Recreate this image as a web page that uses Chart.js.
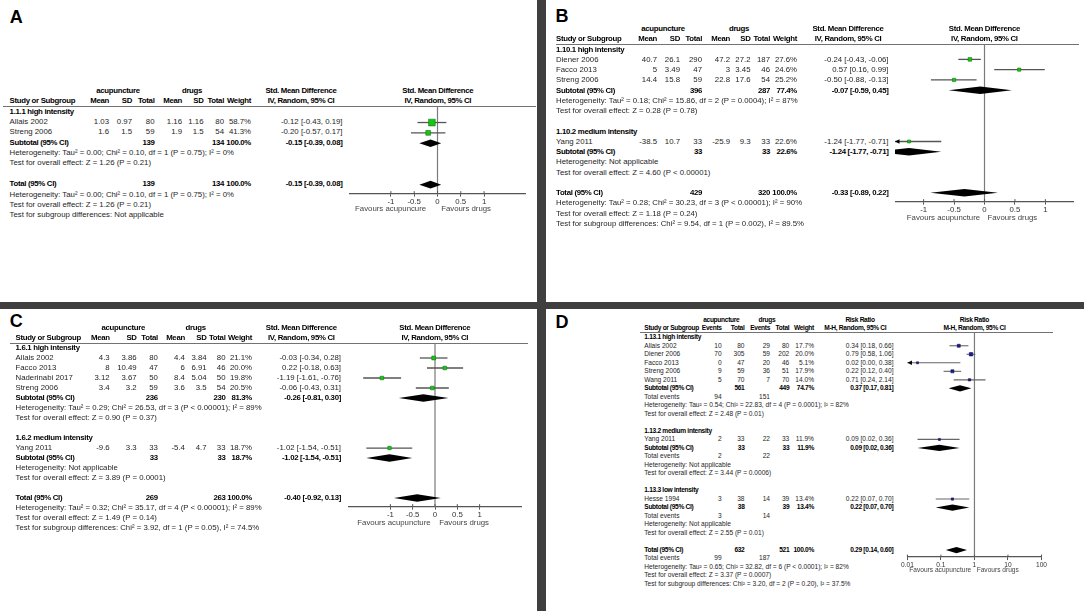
<!DOCTYPE html>
<html lang="en">
<head>
<meta charset="UTF-8">
<title>Acupuncture vs drugs - forest plots</title>
<style>
  html, body { margin: 0; padding: 0; background: #fff; }
  body { width: 1084px; height: 611px; position: relative; overflow: hidden;
         font-family: "Liberation Sans", Arial, sans-serif; color: #1e1e1e; }
  .t { position: absolute; white-space: nowrap; line-height: 1; }
  .b { font-weight: bold; color: #000; letter-spacing: -0.3px; }
  .fav { color: #444; }
  .letter { font-size: 18px; font-weight: bold; color: #000; letter-spacing: 0; }
  .bar { position: absolute; background: #3f3f3f; }
  .rule { position: absolute; height: 1.4px; background: #727272; }
  canvas { position: absolute; }
</style>
</head>
<body>
<div class="bar" style="left:537px;top:0;width:9px;height:611px"></div>
<div class="bar" style="left:0;top:302px;width:1084px;height:7px"></div>

<script src="https://cdn.jsdelivr.net/npm/chart.js"></script>
<script>
const FONT = '"Liberation Sans", Arial, sans-serif';

// ---------- A: std. mean difference ----------
const aStudy = ['Allais 2002', 'Streng 2006'];
const aAcuMean = [1.03, 1.6], aAcuSD = [0.97, 1.5], aAcuN = [80, 59];
const aDrgMean = [1.16, 1.9], aDrgSD = [1.16, 1.5], aDrgN = [80, 54];
const aWeight = [58.7, 41.3];
const aEst = [-0.12, -0.20], aLo = [-0.43, -0.57], aHi = [0.19, 0.17];
const aPool = ['Subtotal (95% CI)', 'Total (95% CI)'];
const aPoolN1 = [139, 139], aPoolN2 = [134, 134], aPoolW = [100, 100];
const aPoolEst = [-0.15, -0.15], aPoolLo = [-0.39, -0.39], aPoolHi = [0.08, 0.08];
const aLines = [
  'g:1.1.1 high intensity', 's', 's', 'p',
  'n:Heterogeneity: Tau² = 0.00; Chi² = 0.10, df = 1 (P = 0.75); I² = 0%',
  'n:Test for overall effect: Z = 1.26 (P = 0.21)', '',
  'p',
  'n:Heterogeneity: Tau² = 0.00; Chi² = 0.10, df = 1 (P = 0.75); I² = 0%',
  'n:Test for overall effect: Z = 1.26 (P = 0.21)',
  'n:Test for subgroup differences: Not applicable'
];

// ---------- B ----------
const bStudy = ['Diener 2006', 'Facco 2013', 'Streng 2006', 'Yang 2011'];
const bAcuMean = [40.7, 5, 14.4, -38.5], bAcuSD = [26.1, 3.49, 15.8, 10.7], bAcuN = [290, 47, 59, 33];
const bDrgMean = [47.2, 3, 22.8, -25.9], bDrgSD = [27.2, 3.45, 17.6, 9.3], bDrgN = [187, 46, 54, 33];
const bWeight = [27.6, 24.6, 25.2, 22.6];
const bEst = [-0.24, 0.57, -0.50, -1.24], bLo = [-0.43, 0.16, -0.88, -1.77], bHi = [-0.06, 0.99, -0.13, -0.71];
const bPool = ['Subtotal (95% CI)', 'Subtotal (95% CI)', 'Total (95% CI)'];
const bPoolN1 = [396, 33, 429], bPoolN2 = [287, 33, 320], bPoolW = [77.4, 22.6, 100];
const bPoolEst = [-0.07, -1.24, -0.33], bPoolLo = [-0.59, -1.77, -0.89], bPoolHi = [0.45, -0.71, 0.22];
const bLines = [
  'g:1.10.1 high intensity', 's', 's', 's', 'p',
  'n:Heterogeneity: Tau² = 0.18; Chi² = 15.86, df = 2 (P = 0.0004); I² = 87%',
  'n:Test for overall effect: Z = 0.28 (P = 0.78)', '',
  'g:1.10.2 medium intensity', 's', 'p',
  'n:Heterogeneity: Not applicable',
  'n:Test for overall effect: Z = 4.60 (P < 0.00001)', '',
  'p',
  'n:Heterogeneity: Tau² = 0.28; Chi² = 30.23, df = 3 (P < 0.00001); I² = 90%',
  'n:Test for overall effect: Z = 1.18 (P = 0.24)',
  'n:Test for subgroup differences: Chi² = 9.54, df = 1 (P = 0.002), I² = 89.5%'
];

// ---------- C ----------
const cStudy = ['Allais 2002', 'Facco 2013', 'Naderinabi 2017', 'Streng 2006', 'Yang 2011'];
const cAcuMean = [4.3, 8, 3.12, 3.4, -9.6], cAcuSD = [3.86, 10.49, 3.67, 3.2, 3.3], cAcuN = [80, 47, 50, 59, 33];
const cDrgMean = [4.4, 6, 8.4, 3.6, -5.4], cDrgSD = [3.84, 6.91, 5.04, 3.5, 4.7], cDrgN = [80, 46, 50, 54, 33];
const cWeight = [21.1, 20.0, 19.8, 20.5, 18.7];
const cEst = [-0.03, 0.22, -1.19, -0.06, -1.02], cLo = [-0.34, -0.18, -1.61, -0.43, -1.54], cHi = [0.28, 0.63, -0.76, 0.31, -0.51];
const cPool = ['Subtotal (95% CI)', 'Subtotal (95% CI)', 'Total (95% CI)'];
const cPoolN1 = [236, 33, 269], cPoolN2 = [230, 33, 263], cPoolW = [81.3, 18.7, 100];
const cPoolEst = [-0.26, -1.02, -0.40], cPoolLo = [-0.81, -1.54, -0.92], cPoolHi = [0.30, -0.51, 0.13];
const cLines = [
  'g:1.6.1 high intensity', 's', 's', 's', 's', 'p',
  'n:Heterogeneity: Tau² = 0.29; Chi² = 26.53, df = 3 (P < 0.00001); I² = 89%',
  'n:Test for overall effect: Z = 0.90 (P = 0.37)', '',
  'g:1.6.2 medium intensity', 's', 'p',
  'n:Heterogeneity: Not applicable',
  'n:Test for overall effect: Z = 3.89 (P = 0.0001)', '',
  'p',
  'n:Heterogeneity: Tau² = 0.32; Chi² = 35.17, df = 4 (P < 0.00001); I² = 89%',
  'n:Test for overall effect: Z = 1.49 (P = 0.14)',
  'n:Test for subgroup differences: Chi² = 3.92, df = 1 (P = 0.05), I² = 74.5%'
];

// ---------- D: risk ratio ----------
const dStudy = ['Allais 2002', 'Diener 2006', 'Facco 2013', 'Streng 2006', 'Wang 2011', 'Yang 2011', 'Hesse 1994'];
const dAcuEv = [10, 70, 0, 9, 5, 2, 3], dAcuN = [80, 305, 47, 59, 70, 33, 38];
const dDrgEv = [29, 59, 20, 36, 7, 22, 14], dDrgN = [80, 202, 46, 51, 70, 33, 39];
const dWeight = [17.7, 20.0, 5.1, 17.9, 14.0, 11.9, 13.4];
const dEst = [0.34, 0.79, 0.02, 0.22, 0.71, 0.09, 0.22];
const dLo = [0.18, 0.58, 0.00, 0.12, 0.24, 0.02, 0.07];
const dHi = [0.66, 1.06, 0.38, 0.40, 2.14, 0.36, 0.70];
const dPool = ['Subtotal (95% CI)', 'Subtotal (95% CI)', 'Subtotal (95% CI)', 'Total (95% CI)'];
const dPoolN1 = [561, 33, 38, 632], dPoolN2 = [449, 33, 39, 521], dPoolW = [74.7, 11.9, 13.4, 100];
const dPoolEst = [0.37, 0.09, 0.22, 0.29], dPoolLo = [0.17, 0.02, 0.07, 0.14], dPoolHi = [0.81, 0.36, 0.70, 0.60];
const dEvAcu = [94, 2, 3, 99], dEvDrg = [151, 22, 14, 187];
const dLines = [
  'g:1.13.1 high intensity', 's', 's', 's', 's', 's', 'p', 'e',
  'n:Heterogeneity: Tau² = 0.54; Chi² = 22.83, df = 4 (P = 0.0001); I² = 82%',
  'n:Test for overall effect: Z = 2.48 (P = 0.01)', '',
  'g:1.13.2 medium intensity', 's', 'p', 'e',
  'n:Heterogeneity: Not applicable',
  'n:Test for overall effect: Z = 3.44 (P = 0.0006)', '',
  'g:1.13.3 low intensity', 's', 'p', 'e',
  'n:Heterogeneity: Not applicable',
  'n:Test for overall effect: Z = 2.55 (P = 0.01)', '',
  'p', 'e',
  'n:Heterogeneity: Tau² = 0.65; Chi² = 32.82, df = 6 (P < 0.0001); I² = 82%',
  'n:Test for overall effect: Z = 3.37 (P = 0.0007)',
  'n:Test for subgroup differences: Chi² = 3.20, df = 2 (P = 0.20), I² = 37.5%'
];

const smdTicks = [-1, -0.5, 0, 0.5, 1];
const rrTicks = [0.01, 0.1, 1, 10, 100];
const smdHead = ['Mean', 'SD', 'Total', 'Mean', 'SD', 'Total'];
const rrHead = ['Events', 'Total', 'Events', 'Total'];

function put(text, x, y, align, size, cls) {
  const s = document.createElement('span');
  s.className = 't' + (cls ? ' ' + cls : '');
  s.textContent = text;
  s.style.left = x + 'px';
  s.style.top = y + 'px';
  if (size) s.style.fontSize = size + 'px';
  s.style.transform = align === 'r' ? 'translate(-100%,-50%)' : align === 'c' ? 'translate(-50%,-50%)' : 'translate(0,-50%)';
  document.body.appendChild(s);
}

const f2 = v => v.toFixed(2);
const ciText = (e, l, h) => f2(e) + ' [' + f2(l) + ', ' + f2(h) + ']';

// draws null line, CI whiskers, arrows and diamonds with the chart's scales
function forestPlugin(p, studyRow, poolRow) {
  return {
    id: 'forest' + p.letter,
    beforeDatasetsDraw(chart) {
      const { ctx, chartArea: a, scales: { x, y } } = chart;
      ctx.save();
      const x0 = x.getPixelForValue(p.nullValue);
      ctx.strokeStyle = '#7a7a7a';
      ctx.lineWidth = 1.2;
      ctx.beginPath(); ctx.moveTo(x0, a.top); ctx.lineTo(x0, a.bottom); ctx.stroke();

      // tick marks also reach a little above the axis line
      ctx.strokeStyle = '#555';
      ctx.lineWidth = 1;
      p.xTicks.forEach(v => {
        const tx = x.getPixelForValue(v);
        ctx.beginPath(); ctx.moveTo(tx, a.bottom - 2.5); ctx.lineTo(tx, a.bottom); ctx.stroke();
      });

      ctx.strokeStyle = p.ciColor;
      ctx.lineWidth = p.ciWidth;
      studyRow.forEach((r, i) => {
        const lo = Math.max(p.lo[i], x.min), hi = Math.min(p.hi[i], x.max);
        const xl = x.getPixelForValue(lo), xr = x.getPixelForValue(hi), yy = y.getPixelForValue(r);
        ctx.beginPath(); ctx.moveTo(xl, yy); ctx.lineTo(xr, yy); ctx.stroke();
        ctx.fillStyle = '#000';
        if (p.lo[i] < x.min) {
          ctx.beginPath(); ctx.moveTo(xl, yy); ctx.lineTo(xl + 4.5, yy - 2.3); ctx.lineTo(xl + 4.5, yy + 2.3); ctx.fill();
        }
        if (p.hi[i] > x.max) {
          ctx.beginPath(); ctx.moveTo(xr, yy); ctx.lineTo(xr - 4.5, yy - 2.3); ctx.lineTo(xr - 4.5, yy + 2.3); ctx.fill();
        }
      });

      // pooled diamonds, cut at the ends of the axis
      ctx.beginPath(); ctx.rect(a.left, a.top, a.width, a.height); ctx.clip();
      const h = p.pitch * 0.37;
      ctx.fillStyle = '#000';
      poolRow.forEach((r, i) => {
        const xl = x.getPixelForValue(p.poolLo[i]);
        const xe = x.getPixelForValue(p.poolEst[i]);
        const xr = x.getPixelForValue(p.poolHi[i]);
        const yy = y.getPixelForValue(r);
        ctx.beginPath();
        ctx.moveTo(xl, yy); ctx.lineTo(xe, yy - h); ctx.lineTo(xr, yy); ctx.lineTo(xe, yy + h);
        ctx.closePath(); ctx.fill();
      });
      ctx.restore();
    }
  };
}

function chartConfig(p, studyRow, poolRow, yMax, withPlugin) {
  const wMax = Math.max(...p.weight);
  const sides = p.weight.map(w => Math.max(2, p.boxMax * w / wMax));
  return {
    type: 'scatter',
    data: {
      datasets: [{
        data: studyRow.map((r, i) => ({ x: p.est[i], y: r })),
        pointStyle: 'rect',
        pointRadius: sides.map(s => s / Math.SQRT2),
        backgroundColor: p.marker,
        borderColor: p.markerEdge,
        borderWidth: 0.6
      }]
    },
    options: {
      responsive: false,
      animation: false,
      events: [],
      layout: { padding: 0, autoPadding: false },
      plugins: { legend: { display: false }, tooltip: { enabled: false } },
      scales: {
        x: {
          type: p.logX ? 'logarithmic' : 'linear',
          min: p.xMin, max: p.xMax,
          afterBuildTicks: s => { s.ticks = p.xTicks.map(v => ({ value: v })); },
          ticks: { autoSkip: false, maxRotation: 0, padding: 1, color: '#333',
                   font: { family: FONT, size: p.font }, callback: v => String(v) },
          grid: { drawOnChartArea: false, drawTicks: true, tickLength: 3, color: '#555' },
          border: { display: true, color: '#555', width: 1.2 }
        },
        y: { type: 'linear', display: false, min: 1.5, max: yMax, reverse: true }
      }
    },
    plugins: withPlugin ? [forestPlugin(p, studyRow, poolRow)] : []
  };
}

function makeCanvas(left, top, w, h) {
  const cv = document.createElement('canvas');
  cv.width = w; cv.height = h;
  cv.style.left = left + 'px'; cv.style.top = top + 'px';
  cv.style.width = w + 'px'; cv.style.height = h + 'px';
  document.body.appendChild(cv);
  return cv;
}

function buildPanel(p) {
  const studyRow = [], poolRow = [], rows = [];
  let si = 0, pi = 0, ei = 0;
  p.lines.forEach((code, k) => {
    const r = k + 2;
    if (code === 's') { studyRow.push(r); rows.push({ r, kind: 's', i: si++ }); }
    else if (code === 'p') { poolRow.push(r); rows.push({ r, kind: 'p', i: pi++ }); }
    else if (code === 'e') rows.push({ r, kind: 'e', i: ei++ });
    else if (code) rows.push({ r, kind: code[0], text: code.slice(2) });
  });
  const yMax = poolRow[poolRow.length - 1] + p.axisGap;
  const W = Math.round(p.axisR - p.axisL);
  const top = p.top0 + 1.5 * p.pitch;

  // probe once to learn how tall the x axis is, then size the canvas to the row pitch
  const probeCv = makeCanvas(p.axisL, top, W, 200);
  const probe = new Chart(probeCv, chartConfig(p, studyRow, poolRow, yMax, false));
  const axisH = probe.height - probe.chartArea.bottom;
  probe.destroy();
  probeCv.remove();

  const cv = makeCanvas(p.axisL, top, W, Math.round((yMax - 1.5) * p.pitch + axisH));
  const chart = new Chart(cv, chartConfig(p, studyRow, poolRow, yMax, true));

  const ys = chart.scales.y, xs = chart.scales.x;
  const rowY = r => top + ys.getPixelForValue(r);
  const xNull = p.axisL + xs.getPixelForValue(p.nullValue);
  const fs = p.font;

  put(p.letter, p.letterX, p.letterY, 'c', null, 'letter');
  const rule = document.createElement('div');
  rule.className = 'rule';
  rule.style.left = p.ruleL + 'px'; rule.style.width = (p.ruleR - p.ruleL) + 'px';
  rule.style.top = (top - 0.7) + 'px';
  document.body.appendChild(rule);

  // column headers
  put('acupuncture', p.groupX[0], rowY(0), 'c', fs, 'b');
  put('drugs', p.groupX[1], rowY(0), 'c', fs, 'b');
  put(p.effHead[0], p.effX[0], rowY(0), 'c', fs, 'b');
  put(p.effHead[0], xNull, rowY(0), 'c', fs, 'b');
  put('Study or Subgroup', p.nameX, rowY(1), 'l', fs, 'b');
  p.colHead.forEach((t, j) => put(t, p.colX[j], rowY(1), 'r', fs, 'b'));
  put('Weight', p.weightX, rowY(1), 'r', fs, 'b');
  put(p.effHead[1], p.effX[1], rowY(1), 'c', fs, 'b');
  put(p.effHead[1], xNull, rowY(1), 'c', fs, 'b');

  rows.forEach(o => {
    const y = rowY(o.r);
    if (o.kind === 'g') put(o.text, p.nameX, y, 'l', fs, 'b');
    else if (o.kind === 'n') put(o.text, p.nameX, y, 'l', fs);
    else if (o.kind === 's') {
      const i = o.i;
      put(p.names[i], p.nameX, y, 'l', fs);
      p.cols.forEach((arr, j) => put(String(arr[i]), p.colX[j], y, 'r', fs));
      put(p.weight[i].toFixed(1) + '%', p.weightX, y, 'r', fs);
      put(ciText(p.est[i], p.lo[i], p.hi[i]), p.ciX, y, 'r', fs);
    } else if (o.kind === 'p') {
      const i = o.i;
      put(p.poolNames[i], p.nameX, y, 'l', fs, 'b');
      put(String(p.poolN1[i]), p.colX[p.nCols[0]], y, 'r', fs, 'b');
      put(String(p.poolN2[i]), p.colX[p.nCols[1]], y, 'r', fs, 'b');
      put(p.poolW[i].toFixed(1) + '%', p.weightX, y, 'r', fs, 'b');
      put(ciText(p.poolEst[i], p.poolLo[i], p.poolHi[i]), p.ciX, y, 'r', fs, 'b');
    } else if (o.kind === 'e') {
      put('Total events', p.nameX, y, 'l', fs);
      put(String(p.evAcu[o.i]), p.colX[p.evCols[0]], y, 'r', fs);
      put(String(p.evDrg[o.i]), p.colX[p.evCols[1]], y, 'r', fs);
    }
  });

  const favY = top + chart.chartArea.bottom + p.favDy;
  put(p.favL[0], xNull + p.favL[1], favY, 'r', fs, 'fav');
  put('Favours drugs', xNull + p.favR, favY, 'l', fs, 'fav');
}

const smdBase = {
  nullValue: 0, logX: false, xTicks: smdTicks, colHead: smdHead, nCols: [2, 5],
  effHead: ['Std. Mean Difference', 'IV, Random, 95% CI'], axisGap: 0.86,
  marker: '#17c417', markerEdge: '#0b7d0b', ciColor: '#555', ciWidth: 1.3
};

buildPanel(Object.assign({}, smdBase, {
  letter: 'A', letterX: 16.3, letterY: 16.5, font: 7.8, top0: 91, pitch: 10.36,
  nameX: 9.6, colX: [109, 132, 154.5, 182, 203.5, 224], weightX: 251, ciX: 342.5,
  groupX: [118, 192], effX: [301, 301], ruleL: 3.4, ruleR: 536,
  axisL: 349.35, axisR: 526.05, xMin: -1.9, xMax: 1.9, axisGap: 0.87,
  favL: ['Favours acupuncure', -11.7], favR: 3.3, favDy: 15.4, boxMax: 6.7,
  names: aStudy, cols: [aAcuMean, aAcuSD, aAcuN, aDrgMean, aDrgSD, aDrgN],
  weight: aWeight, est: aEst, lo: aLo, hi: aHi,
  poolNames: aPool, poolN1: aPoolN1, poolN2: aPoolN2, poolW: aPoolW,
  poolEst: aPoolEst, poolLo: aPoolLo, poolHi: aPoolHi, lines: aLines
}));

buildPanel(Object.assign({}, smdBase, {
  letter: 'B', letterX: 562, letterY: 15.5, font: 7.8, top0: 29, pitch: 10.26,
  nameX: 556, colX: [657, 680, 702, 730, 750.5, 770], weightX: 797, ciX: 888.5,
  groupX: [663, 739], effX: [848, 848], ruleL: 556, ruleR: 1079,
  axisL: 894.9, axisR: 1073.7, xMin: -1.47, xMax: 1.47,
  favL: ['Favours acupuncture', -4.3], favR: 3, favDy: 15.7, boxMax: 3.6,
  names: bStudy, cols: [bAcuMean, bAcuSD, bAcuN, bDrgMean, bDrgSD, bDrgN],
  weight: bWeight, est: bEst, lo: bLo, hi: bHi,
  poolNames: bPool, poolN1: bPoolN1, poolN2: bPoolN2, poolW: bPoolW,
  poolEst: bPoolEst, poolLo: bPoolLo, poolHi: bPoolHi, lines: bLines
}));

buildPanel(Object.assign({}, smdBase, {
  letter: 'C', letterX: 16.3, letterY: 321, font: 7.8, top0: 328.3, pitch: 9.99,
  nameX: 15.5, colX: [109.7, 136.7, 157.9, 184.9, 206.6, 225.5], weightX: 252, ciX: 341,
  groupX: [123.3, 195.6], effX: [301.3, 301.3], ruleL: 10, ruleR: 528,
  axisL: 347.8, axisR: 521.4, xMin: -1.95, xMax: 1.95,
  favL: ['Favours acupuncture', -4.2], favR: 4.4, favDy: 15.6, boxMax: 3.8,
  names: cStudy, cols: [cAcuMean, cAcuSD, cAcuN, cDrgMean, cDrgSD, cDrgN],
  weight: cWeight, est: cEst, lo: cLo, hi: cHi,
  poolNames: cPool, poolN1: cPoolN1, poolN2: cPoolN2, poolW: cPoolW,
  poolEst: cPoolEst, poolLo: cPoolLo, poolHi: cPoolHi, lines: cLines
}));

buildPanel({
  letter: 'D', letterX: 562, letterY: 321.7, font: 6.6, top0: 320, pitch: 8.5,
  nullValue: 1, logX: true, xTicks: rrTicks, colHead: rrHead, nCols: [1, 3], evCols: [0, 2],
  effHead: ['Risk Ratio', 'M-H, Random, 95% CI'], axisGap: 0.82,
  nameX: 644.3, colX: [721.7, 744.5, 770, 789.3], weightX: 814, ciX: 893.5,
  groupX: [721.3, 767], effX: [860, 855.3], ruleL: 640, ruleR: 1053.3,
  axisL: 900, axisR: 1047.7, xMin: 0.01, xMax: 100,
  favL: ['Favours acupuncture', -3.2], favR: 2.2, favDy: 12.7, boxMax: 3.4,
  marker: '#1c1c8c', markerEdge: '#10105a', ciColor: '#666', ciWidth: 1.1,
  names: dStudy, cols: [dAcuEv, dAcuN, dDrgEv, dDrgN],
  weight: dWeight, est: dEst, lo: dLo, hi: dHi,
  poolNames: dPool, poolN1: dPoolN1, poolN2: dPoolN2, poolW: dPoolW,
  poolEst: dPoolEst, poolLo: dPoolLo, poolHi: dPoolHi,
  evAcu: dEvAcu, evDrg: dEvDrg, lines: dLines
});
</script>
</body>
</html>
